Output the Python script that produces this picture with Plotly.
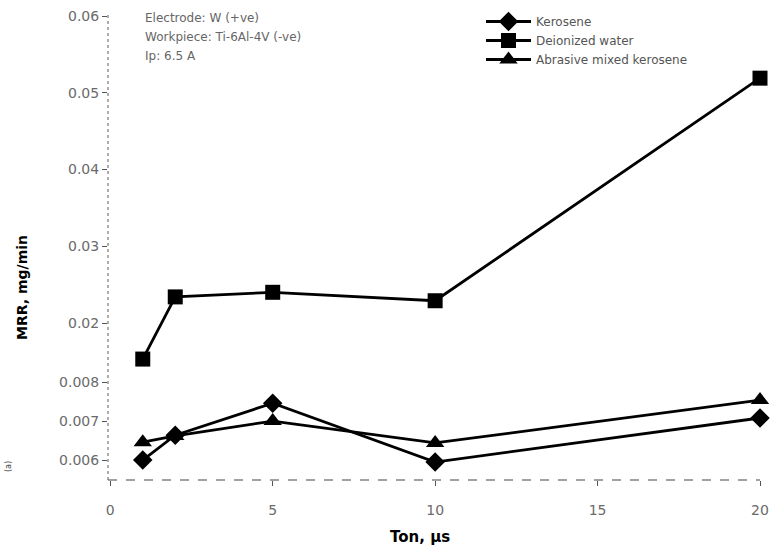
import plotly.graph_objects as go

# ---- data ----
ton = [1, 2, 5, 10, 20]
kerosene = [0.00601, 0.00665, 0.00747, 0.00596, 0.00709]
deionized = [0.0153, 0.0234, 0.0240, 0.0229, 0.0519]
abrasive = [0.00647, 0.00663, 0.00701, 0.00645, 0.00755]

series_names = ["Kerosene", "Deionized water", "Abrasive mixed kerosene"]
lower_ticks = [0.006, 0.007, 0.008]
lower_labels = ["0.006", "0.007", "0.008"]
upper_ticks = [0.02, 0.03, 0.04, 0.05, 0.06]
upper_labels = ["0.02", "0.03", "0.04", "0.05", "0.06"]
x_ticks = [0, 5, 10, 15, 20]
info_lines = ["Electrode: W (+ve)", "Workpiece: Ti-6Al-4V (-ve)", "Ip: 6.5 A"]

W, H = 771, 553
ML, MR, MT, MB = 108, 11, 15, 73

tick_font = dict(family="DejaVu Sans", size=14, color="#6a6a6a")

fig = go.Figure()
fig.add_trace(go.Scatter(
    x=ton, y=kerosene, name=series_names[0], mode="lines+markers", yaxis="y",
    line=dict(color="black", width=2.8),
    marker=dict(symbol="diamond", size=15, color="black"), cliponaxis=False))
fig.add_trace(go.Scatter(
    x=ton, y=deionized, name=series_names[1], mode="lines+markers", yaxis="y2",
    line=dict(color="black", width=2.8),
    marker=dict(symbol="square", size=15, color="black"), cliponaxis=False))
fig.add_trace(go.Scatter(
    x=ton, y=abrasive, name=series_names[2], mode="lines+markers", yaxis="y",
    line=dict(color="black", width=2.8),
    marker=dict(symbol="triangle-up", size=16, color="black"), cliponaxis=False))

fig.update_layout(
    width=W, height=H,
    margin=dict(l=ML, r=MR, t=MT, b=MB, autoexpand=False),
    paper_bgcolor="white", plot_bgcolor="white",
    showlegend=True,
    legend=dict(xref="container", yref="container",
                x=481 / W, y=1 - 7 / H, xanchor="left", yanchor="top",
                font=dict(family="DejaVu Sans", size=12, color="#555555"),
                bgcolor="rgba(0,0,0,0)", tracegroupgap=0, itemwidth=45),
    xaxis=dict(range=[-0.07, 20], tickmode="array", tickvals=x_ticks,
               ticktext=[str(v) for v in x_ticks],
               ticks="outside", ticklen=5, tickcolor="#555555",
               showgrid=False, zeroline=False, showline=False,
               tickfont=tick_font, ticklabelstandoff=12),
    yaxis=dict(range=[0.0055, 0.017423], tickmode="array",
               tickvals=lower_ticks, ticktext=lower_labels,
               ticks="outside", ticklen=5, tickcolor="#555555",
               showgrid=False, zeroline=False, showline=False,
               tickfont=tick_font),
    yaxis2=dict(range=[-0.000456, 0.06013], tickmode="array",
                tickvals=upper_ticks, ticktext=upper_labels,
                overlaying="y", side="left", anchor="x",
                ticks="outside", ticklen=5, tickcolor="#555555",
                showgrid=False, zeroline=False, showline=False,
                tickfont=tick_font),
)

# axis lines (scanned look: dotted y, dashed x)
fig.add_shape(type="line", xref="paper", yref="paper", x0=0, x1=0, y0=0, y1=1,
              line=dict(color="#777777", width=1.2, dash="dot"))
fig.add_shape(type="line", xref="paper", yref="paper", x0=0, x1=1, y0=0, y1=0,
              line=dict(color="#444444", width=1.2, dash="dash"))

# info text
for i, t in enumerate(info_lines):
    fig.add_annotation(text=t, xref="paper", yref="paper",
                       x=(143 - ML) / (W - ML - MR),
                       y=1 - (18 + 19 * i - MT) / (H - MT - MB),
                       xanchor="left", yanchor="middle", showarrow=False,
                       font=dict(family="DejaVu Sans", size=12, color="#666666"))

# axis titles
fig.add_annotation(text="<b>Ton, μs</b>", xref="paper", yref="paper",
                   x=(420 - ML) / (W - ML - MR), y=-(537 - (H - MB)) / (H - MT - MB),
                   xanchor="center", yanchor="middle", showarrow=False,
                   font=dict(family="DejaVu Sans", size=15, color="black"))
fig.add_annotation(text="<b>MRR, mg/min</b>", xref="paper", yref="paper",
                   x=-(ML - 22) / (W - ML - MR), y=1 - (288 - MT) / (H - MT - MB),
                   xanchor="center", yanchor="middle", showarrow=False, textangle=-90,
                   font=dict(family="DejaVu Sans", size=14, color="black"))
fig.add_annotation(text="(a)", xref="paper", yref="paper",
                   x=-(ML - 8) / (W - ML - MR), y=1 - (467 - MT) / (H - MT - MB),
                   xanchor="center", yanchor="middle", showarrow=False, textangle=-90,
                   font=dict(family="DejaVu Sans", size=8, color="#444444"))

fig.write_html("out.html")
